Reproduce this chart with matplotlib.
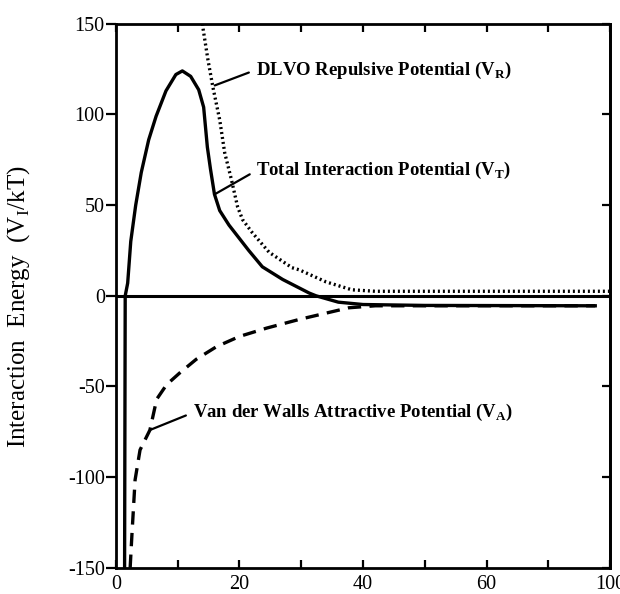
import matplotlib
matplotlib.use("Agg")
import matplotlib.pyplot as plt
from matplotlib.ticker import MultipleLocator

plt.rcParams['font.family'] = ['Liberation Serif', 'DejaVu Serif']
plt.rcParams['mathtext.fontset'] = 'custom'
plt.rcParams['mathtext.rm'] = 'Liberation Serif'

# separation distance (axis units) and energies
x_total = [1.4, 1.5, 1.9, 2.4, 3.2, 4.1, 5.3, 6.5, 8.1, 9.7, 10.75, 12.1, 13.4,
           14.2, 14.8, 15.3, 15.95, 16.8, 18.3, 19.9, 21.5, 23.7, 27.0, 31.3, 32.4,
           36.0, 40.0, 50.0, 77.6]
y_total = [-150, 0, 7, 30, 50, 68, 86, 99, 113, 122, 124, 121, 113.6,
           104, 82, 70, 56, 47, 39, 32, 25, 16, 9, 1.5, 0,
           -3.5, -4.8, -5.3, -5.5]

x_rep = [13.98, 14.9, 15.7, 16.8, 17.6, 18.7, 19.7, 20.5, 22.1, 24.8, 28.5, 29.7, 34.0, 38.2, 42.0, 80.0]
y_rep = [150, 130, 115, 97, 79, 64, 49, 42, 34.7, 24, 15.5, 14.3, 7.7, 3.3, 2.5, 2.5]

x_att = [2.3, 2.6, 3.1, 3.9, 5.5, 6.6, 8.2, 10.3, 13.0, 16.3, 20.0, 24.4, 29.7, 37.7, 42.0, 77.6]
y_att = [-150, -131, -101.5, -85, -74, -57, -49, -42.6, -35, -28, -22.4, -17.8, -13, -6.6, -5.5, -5.5]

xtick_pos = [0, 20, 40, 60, 80]
xtick_lab = ['0', '20', '40', '60', '100']
ytick_pos = [-150, -100, -50, 0, 50, 100, 150]

fig = plt.figure(figsize=(6.2, 5.94), dpi=100)
ax = fig.add_axes([0.187, 0.044, 0.797, 0.916])

ax.axhline(0, color='black', lw=2.2)
ax.plot(x_total, y_total, color='black', lw=2.4, solid_joinstyle='round')
ax.plot(x_rep, y_rep, color='black', lw=2.4, linestyle=(0, (0.6, 0.9)))
ax.plot(x_att, y_att, color='black', lw=2.4, linestyle=(0, (4, 2.5)))

ax.set_xlim(0, 80)
ax.set_ylim(-150, 150)
ax.set_xticks(xtick_pos)
ax.set_xticklabels(xtick_lab)
ax.xaxis.set_minor_locator(MultipleLocator(10))
ax.set_yticks(ytick_pos)
ax.set_yticklabels(['-150', '-100', '-50', '0', '50', '100', '150'])

for s in ax.spines.values():
    s.set_linewidth(2.0)

ax.tick_params(axis='x', which='both', direction='in', top=True, length=6, width=1.6,
               labelsize=14.5, pad=5)
ax.tick_params(axis='y', which='both', direction='out', length=7, width=1.6,
               labelsize=14.5, pad=1)

# right side ticks point inward
ax_r = ax.secondary_yaxis('right')
ax_r.set_yticks(ytick_pos)
ax_r.tick_params(direction='in', length=6, width=1.6, labelright=False)
ax_r.spines['right'].set_linewidth(2.0)

ax.set_ylabel(r'Interaction  Energy  (V$_\mathregular{I}$/kT)', fontsize=18)
ax.yaxis.set_label_coords(-0.17, 0.48)

txt = dict(fontsize=13.5, fontweight='bold', va='center', ha='left')
arr = dict(arrowstyle='-', color='black', lw=1.6, shrinkA=3, shrinkB=0, relpos=(0, 0.5))
ax.annotate(r'DLVO Repulsive Potential (V$_\mathregular{R}$)', xy=(16.0, 116), xytext=(22.6, 124.5),
            arrowprops=arr, **txt)
ax.annotate(r'Total Interaction Potential (V$_\mathregular{T}$)', xy=(16.0, 56), xytext=(22.7, 69),
            arrowprops=arr, **txt)
ax.annotate(r'Van der Walls Attractive Potential (V$_\mathregular{A}$)', xy=(5.5, -74), xytext=(12.4, -64.5),
            arrowprops=arr, **txt)

fig.savefig('out.png', dpi=100)
